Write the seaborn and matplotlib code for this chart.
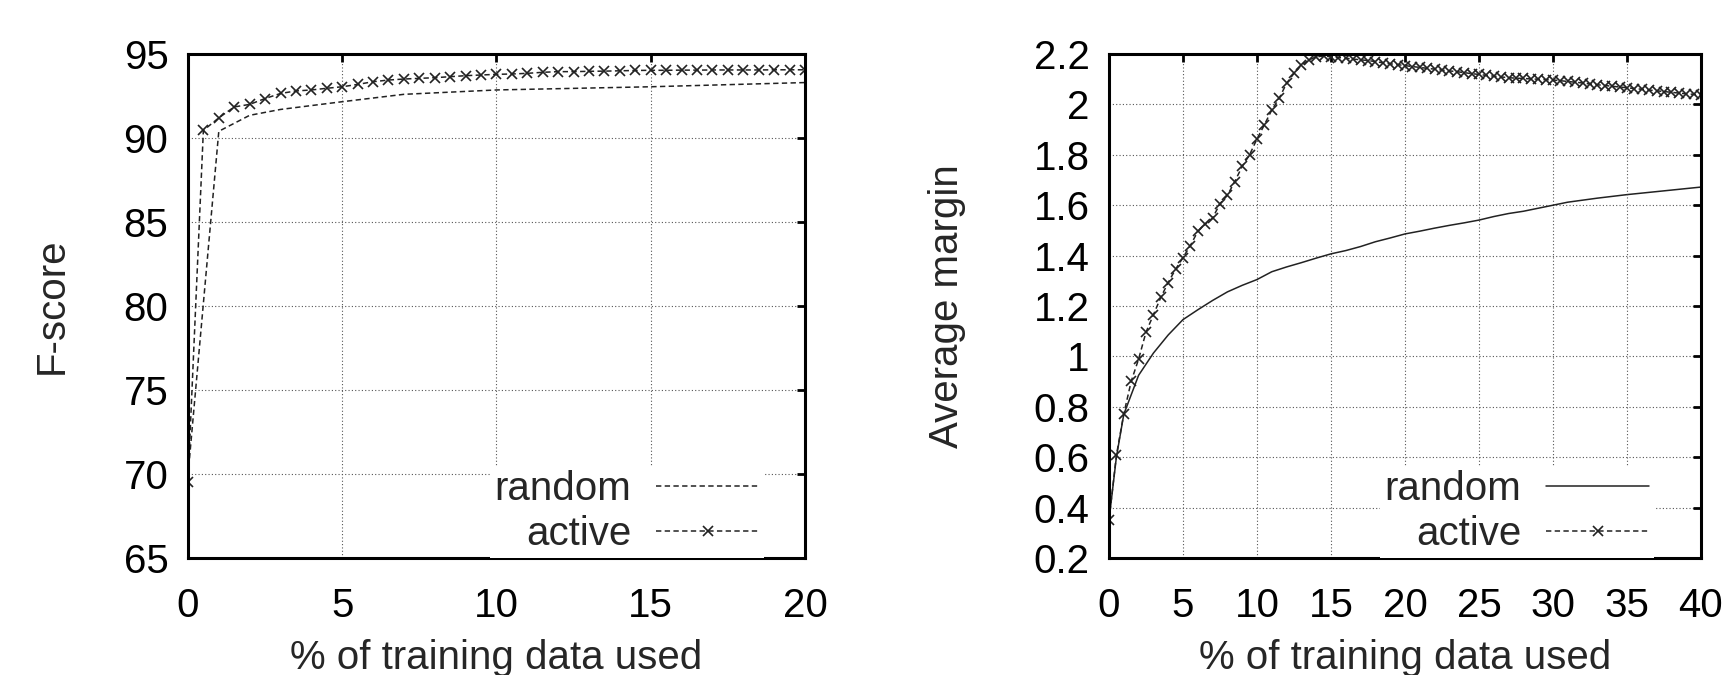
import numpy as np
import pandas as pd
import matplotlib
matplotlib.use('Agg')
import matplotlib.pyplot as plt
import seaborn as sns
from matplotlib.ticker import FuncFormatter


# ---- left panel: F-score ----
f_active_x = np.arange(0, 20.01, 0.5)
f_active = [69.5, 90.45, 91.2, 91.85, 92.0, 92.35, 92.65, 92.8, 92.86, 92.96,
            93.05, 93.19, 93.35, 93.45, 93.51, 93.55, 93.59, 93.65, 93.71, 93.75,
            93.79, 93.81, 93.85, 93.91, 93.95, 93.95, 93.97, 93.98, 94.0, 94.02,
            94.03, 94.03, 94.04, 94.04, 94.05, 94.05, 94.05, 94.05, 94.06, 94.06,
            94.06]
f_random_x = [0, 1, 2, 3, 5, 7, 10, 15, 20]
f_random = [69.9, 90.4, 91.35, 91.7, 92.16, 92.6, 92.86, 93.05, 93.3]

# ---- right panel: average margin ----
m_active_x = np.arange(0, 40.01, 0.5)
m_active = [0.35, 0.607, 0.772, 0.901, 0.989, 1.096, 1.165, 1.234, 1.293, 1.346,
            1.392, 1.44, 1.496, 1.525, 1.549, 1.606, 1.639, 1.694, 1.754, 1.80,
            1.863, 1.919, 1.978, 2.024, 2.084, 2.123, 2.156, 2.176, 2.189, 2.192,
            2.189, 2.186, 2.183, 2.180, 2.177, 2.174, 2.170, 2.165, 2.161, 2.158,
            2.154, 2.150, 2.147, 2.143, 2.140, 2.136, 2.133, 2.130, 2.126, 2.122,
            2.119, 2.115, 2.112, 2.109, 2.106, 2.104, 2.103, 2.101, 2.100, 2.098,
            2.097, 2.094, 2.091, 2.088, 2.085, 2.081, 2.078, 2.075, 2.072, 2.069,
            2.066, 2.063, 2.060, 2.057, 2.054, 2.051, 2.048, 2.045, 2.042, 2.040,
            2.037]
m_random_x = [0, 0.5] + list(range(1, 41))
m_random = [0.35, 0.60, 0.77, 0.925, 1.013, 1.085, 1.146, 1.185, 1.222, 1.256,
            1.282, 1.305, 1.336, 1.355, 1.372, 1.39, 1.407, 1.42, 1.436, 1.455,
            1.47, 1.486, 1.497, 1.509, 1.52, 1.53, 1.541, 1.555, 1.567, 1.576,
            1.588, 1.600, 1.612, 1.620, 1.628, 1.635, 1.642, 1.648, 1.654, 1.660,
            1.666, 1.672]

sns.set_theme(style='white')
plt.rcParams['font.family'] = ['Liberation Sans', 'DejaVu Sans']
plt.rcParams['axes.edgecolor'] = 'black'
plt.rcParams['axes.linewidth'] = 2.2

FS = 29
LC = '#222222'
DASH = (0, (3.5, 2.2))

fig = plt.figure(figsize=(17.29, 6.75), dpi=100)
ax1 = fig.add_axes([0.1087, 0.1733, 0.3569, 0.7467])
ax2 = fig.add_axes([0.6414, 0.1733, 0.3424, 0.7467])

# left
sns.lineplot(x=f_random_x, y=f_random, ax=ax1, color=LC, lw=1.1,
             linestyle=DASH, label='random')
sns.lineplot(x=f_active_x, y=f_active, ax=ax1, color=LC, lw=1.1,
             linestyle=DASH, marker='x', markersize=6.5,
             markeredgewidth=1.2, markeredgecolor=LC, label='active')
ax1.set_xlim(0, 20)
ax1.set_ylim(65, 95)
ax1.set_xticks([0, 5, 10, 15, 20])
ax1.set_yticks([65, 70, 75, 80, 85, 90, 95])
ax1.set_ylabel('F-score', fontsize=FS, va='center')
ax1.yaxis.set_label_coords(-0.22, 0.5)

# right
sns.lineplot(x=m_random_x, y=m_random, ax=ax2, color=LC, lw=1.1,
             linestyle='-', label='random')
sns.lineplot(x=m_active_x, y=m_active, ax=ax2, color=LC, lw=1.1,
             linestyle=DASH, marker='x', markersize=6.5,
             markeredgewidth=1.2, markeredgecolor=LC, label='active')
ax2.set_xlim(0, 40)
ax2.set_ylim(0.2, 2.2)
ax2.set_xticks(range(0, 41, 5))
ax2.set_yticks(np.arange(0.2, 2.21, 0.2))
ax2.yaxis.set_major_formatter(FuncFormatter(lambda v, p: f'{round(v, 1):g}'))
ax2.set_ylabel('Average margin', fontsize=FS, va='center')
ax2.yaxis.set_label_coords(-0.274, 0.5)

for ax, lx in [(ax1, 0.934), (ax2, 0.921)]:
    ax.set_xlabel('% of training data used', fontsize=FS, va='center')
    ax.xaxis.set_label_coords(0.5, -0.199)
    ax.grid(True, color='#555555', lw=0.8, linestyle=(0, (1, 2)))
    ax.set_axisbelow(True)
    ax.tick_params(direction='in', top=True, right=True, length=5.5,
                   width=2, labelsize=FS, colors='black')
    ax.tick_params(axis='x', pad=21)
    ax.tick_params(axis='y', pad=14)
    for s in ax.spines.values():
        s.set_visible(True)
        s.set_color('black')
    leg = ax.legend(loc='lower right', bbox_to_anchor=(lx, 0.0),
                    borderaxespad=0, markerfirst=False, numpoints=1,
                    fontsize=FS, handlelength=2.56, handletextpad=0.62,
                    labelspacing=0.17, borderpad=0.12, frameon=True,
                    fancybox=False, framealpha=1)
    leg.get_frame().set_facecolor('white')
    leg.get_frame().set_edgecolor('none')

fig.savefig('out.png', dpi=100)
